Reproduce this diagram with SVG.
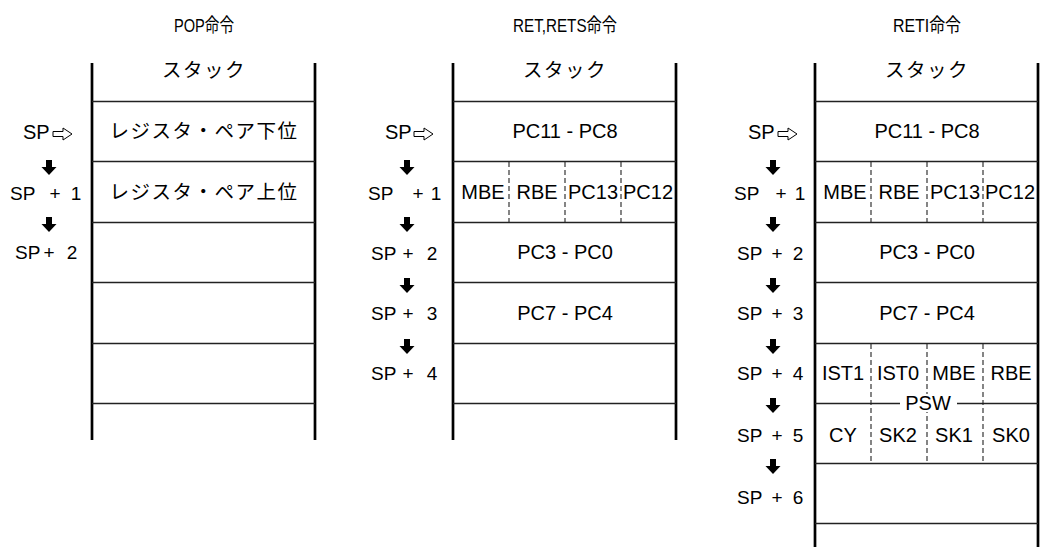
<svg xmlns="http://www.w3.org/2000/svg" width="1041" height="547" viewBox="0 0 1041 547">
<style>
.t{font-family:"Liberation Sans","Noto Sans CJK JP",sans-serif;font-size:20px;fill:#000}
.s{font-family:"Liberation Sans",sans-serif;font-size:19px;fill:#000}
.c{text-anchor:middle}
.j{font-family:"Noto Sans CJK JP","Liberation Sans",sans-serif;font-size:19.5px;letter-spacing:1.5px;text-anchor:middle;fill:#000}
.ti{font-family:"Liberation Sans","Noto Sans CJK JP",sans-serif;font-size:19px;text-anchor:middle;fill:#000}
.v{stroke:#000;stroke-width:2.7;fill:none}
.h{stroke:#222;stroke-width:1.3;fill:none}
.d{stroke:#222;stroke-width:1.1;stroke-dasharray:5 3;fill:none}
.ra{fill:#fff;stroke:#000;stroke-width:1}
.da{fill:#000}
</style>
<defs>
<path id="ra" class="ra" d="M0,3.5 H10 V0 L19,6 L10,12 V8.5 H0 Z"/>
<path id="da" class="da" d="M-3,0 H3 V7 H7.5 L0,15 L-7.5,7 H-3 Z"/>
</defs>

<g id="titles">
<text class="ti" x="204" y="32" textLength="60" lengthAdjust="spacingAndGlyphs">POP命令</text>
<text class="ti" x="565" y="32" textLength="104" lengthAdjust="spacingAndGlyphs">RET,RETS命令</text>
<text class="ti" x="927" y="32" textLength="68" lengthAdjust="spacingAndGlyphs">RETI命令</text>
</g>

<g id="stack-pop">
<line class="v" x1="92" y1="63" x2="92" y2="440"/>
<line class="v" x1="315" y1="63" x2="315" y2="440"/>
<line class="h" x1="92" y1="101.5" x2="315" y2="101.5"/>
<line class="h" x1="92" y1="161.5" x2="315" y2="161.5"/>
<line class="h" x1="92" y1="222.5" x2="315" y2="222.5"/>
<line class="h" x1="92" y1="282.5" x2="315" y2="282.5"/>
<line class="h" x1="92" y1="343.5" x2="315" y2="343.5"/>
<line class="h" x1="92" y1="403.5" x2="315" y2="403.5"/>
<text class="j" x="204" y="77">スタック</text>
<text class="j" x="204" y="138">レジスタ・ペア下位</text>
<text class="j" x="204" y="199">レジスタ・ペア上位</text>
</g>

<g id="stack-ret">
<line class="v" x1="453" y1="63" x2="453" y2="440"/>
<line class="v" x1="676" y1="63" x2="676" y2="440"/>
<line class="h" x1="453" y1="101.5" x2="676" y2="101.5"/>
<line class="h" x1="453" y1="161.5" x2="676" y2="161.5"/>
<line class="h" x1="453" y1="222.5" x2="676" y2="222.5"/>
<line class="h" x1="453" y1="282.5" x2="676" y2="282.5"/>
<line class="h" x1="453" y1="343.5" x2="676" y2="343.5"/>
<line class="h" x1="453" y1="403.5" x2="676" y2="403.5"/>
<line class="d" x1="509" y1="162" x2="509" y2="222"/>
<line class="d" x1="565" y1="162" x2="565" y2="222"/>
<line class="d" x1="621" y1="162" x2="621" y2="222"/>
<text class="j" x="565" y="77">スタック</text>
<text class="t c" x="565" y="138">PC11 - PC8</text>
<text class="t c" x="483" y="199">MBE</text>
<text class="t c" x="537" y="199">RBE</text>
<text class="t c" x="593" y="199">PC13</text>
<text class="t c" x="648" y="199">PC12</text>
<text class="t c" x="565" y="259">PC3 - PC0</text>
<text class="t c" x="565" y="320">PC7 - PC4</text>
</g>

<g id="stack-reti">
<line class="v" x1="815" y1="63" x2="815" y2="547"/>
<line class="v" x1="1038" y1="63" x2="1038" y2="547"/>
<line class="h" x1="815" y1="101.5" x2="1038" y2="101.5"/>
<line class="h" x1="815" y1="161.5" x2="1038" y2="161.5"/>
<line class="h" x1="815" y1="222.5" x2="1038" y2="222.5"/>
<line class="h" x1="815" y1="282.5" x2="1038" y2="282.5"/>
<line class="h" x1="815" y1="343.5" x2="1038" y2="343.5"/>
<line class="h" x1="815" y1="403.5" x2="900" y2="403.5"/>
<line class="h" x1="957" y1="403.5" x2="1038" y2="403.5"/>
<line class="h" x1="815" y1="463.5" x2="1038" y2="463.5"/>
<line class="h" x1="815" y1="523.5" x2="1038" y2="523.5"/>
<line class="d" x1="871" y1="162" x2="871" y2="222"/>
<line class="d" x1="927" y1="162" x2="927" y2="222"/>
<line class="d" x1="983" y1="162" x2="983" y2="222"/>
<line class="d" x1="871" y1="344" x2="871" y2="463"/>
<line class="d" x1="927" y1="344" x2="927" y2="463"/>
<line class="d" x1="983" y1="344" x2="983" y2="463"/>
<text class="j" x="927" y="77">スタック</text>
<text class="t c" x="927" y="138">PC11 - PC8</text>
<text class="t c" x="845" y="199">MBE</text>
<text class="t c" x="899" y="199">RBE</text>
<text class="t c" x="955" y="199">PC13</text>
<text class="t c" x="1010" y="199">PC12</text>
<text class="t c" x="927" y="259">PC3 - PC0</text>
<text class="t c" x="927" y="320">PC7 - PC4</text>
<text class="t c" x="843" y="380">IST1</text>
<text class="t c" x="898" y="380">IST0</text>
<text class="t c" x="954" y="380">MBE</text>
<text class="t c" x="1011" y="380">RBE</text>
<rect x="902" y="394" width="53" height="18" fill="#fff"/>
<text class="t c" x="928" y="410">PSW</text>
<text class="t c" x="843" y="442">CY</text>
<text class="t c" x="898" y="442">SK2</text>
<text class="t c" x="954" y="442">SK1</text>
<text class="t c" x="1011" y="442">SK0</text>
</g>

<g id="sp-labels">
<text class="t" x="23" y="139">SP</text>
<text class="s" x="10" y="200">SP</text><text class="s c" x="55" y="200">+</text><text class="s c" x="76" y="200">1</text>
<text class="s" x="15" y="259">SP</text><text class="s c" x="49" y="259">+</text><text class="s c" x="72" y="259">2</text>

<text class="t" x="385" y="139">SP</text>
<text class="s" x="368" y="200">SP</text><text class="s c" x="418" y="200">+</text><text class="s c" x="436" y="200">1</text>
<text class="s" x="371" y="260">SP</text><text class="s c" x="408" y="260">+</text><text class="s c" x="432" y="260">2</text>
<text class="s" x="371" y="320">SP</text><text class="s c" x="408" y="320">+</text><text class="s c" x="432" y="320">3</text>
<text class="s" x="371" y="380">SP</text><text class="s c" x="408" y="380">+</text><text class="s c" x="432" y="380">4</text>

<text class="t" x="748" y="139">SP</text>
<text class="s" x="734" y="200">SP</text><text class="s c" x="781" y="200">+</text><text class="s c" x="800" y="200">1</text>
<text class="s" x="737" y="260">SP</text><text class="s c" x="777" y="260">+</text><text class="s c" x="798" y="260">2</text>
<text class="s" x="737" y="320">SP</text><text class="s c" x="777" y="320">+</text><text class="s c" x="798" y="320">3</text>
<text class="s" x="737" y="380">SP</text><text class="s c" x="777" y="380">+</text><text class="s c" x="798" y="380">4</text>
<text class="s" x="737" y="442">SP</text><text class="s c" x="777" y="442">+</text><text class="s c" x="798" y="442">5</text>
<text class="s" x="737" y="504">SP</text><text class="s c" x="777" y="504">+</text><text class="s c" x="798" y="504">6</text>
</g>

<g id="connectors">
<use href="#ra" x="53" y="128"/>
<use href="#ra" x="414" y="128"/>
<use href="#ra" x="778" y="128"/>
<use href="#da" x="49" y="160"/>
<use href="#da" x="49" y="217"/>
<use href="#da" x="407" y="160"/>
<use href="#da" x="407" y="217"/>
<use href="#da" x="407" y="278"/>
<use href="#da" x="407" y="339"/>
<use href="#da" x="773" y="160"/>
<use href="#da" x="773" y="217"/>
<use href="#da" x="773" y="278"/>
<use href="#da" x="773" y="339"/>
<use href="#da" x="773" y="398"/>
<use href="#da" x="773" y="459"/>
</g>
</svg>
